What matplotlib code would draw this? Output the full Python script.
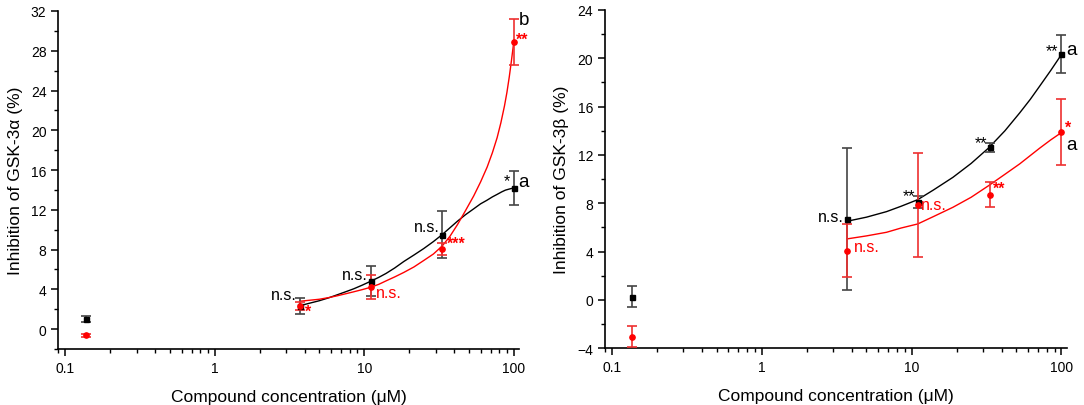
import matplotlib
matplotlib.use('Agg')
import matplotlib.pyplot as plt
from matplotlib.ticker import MultipleLocator, LogLocator, FixedLocator, FixedFormatter, NullFormatter

plt.rcParams['font.family'] = ['Liberation Sans', 'DejaVu Sans']

# concentrations (uM)
conc = [0.137, 3.7, 11.1, 33.3, 100]

# GSK-3alpha
a_black = [1.05, 2.35, 4.8, 9.5, 14.2]
a_black_err = [0.3, 0.8, 1.5, 2.35, 1.7]
a_red = [-0.64, 2.35, 4.23, 8.06, 28.86]
a_red_err = [0.15, 0.42, 1.17, 0.6, 2.3]

# GSK-3beta
b_black = [0.27, 6.7, 8.14, 12.64, 20.36]
b_black_err = [0.88, 5.86, 0.5, 0.37, 1.57]
b_red = [-3.04, 4.07, 7.86, 8.72, 13.88]
b_red_err = [0.85, 2.2, 4.33, 1.06, 2.73]

# fitted curves
a_fit_x_black = [3.7, 4.3, 5, 5.8, 6.6, 7.5, 8.5, 9.7, 11, 12.5, 14, 16, 18.4, 21.5, 25, 29, 33.2,
                 37.5, 42, 47.5, 54, 60, 66, 72, 77.4, 83, 88, 94, 100]
a_fit_y_black = [2.35, 2.6, 2.85, 3.15, 3.45, 3.75, 4.05, 4.42, 4.8, 5.2, 5.6, 6.15, 6.8, 7.45, 8.1, 8.8, 9.5,
                 10.2, 10.85, 11.5, 12.1, 12.6, 12.95, 13.3, 13.55, 13.8, 13.98, 14.1, 14.2]
a_fit_x_red = [3.7, 4.3, 5, 5.8, 6.6, 7.5, 8.5, 9.7, 11, 12.5, 14, 16, 18.4, 21.5, 25, 29, 33.2,
               37.5, 42, 47.5, 54, 60, 66.4, 72, 77.4, 82, 86.7, 90, 93.3, 96.5, 100]
a_fit_y_red = [2.8, 2.9, 3.0, 3.17, 3.35, 3.55, 3.75, 3.97, 4.2, 4.5, 4.85, 5.25, 5.7, 6.25, 6.9, 7.55, 8.35,
               9.35, 10.5, 11.9, 13.4, 14.8, 16.3, 17.75, 19.25, 20.75, 22.45, 23.8, 25.35, 27.0, 28.86]

b_fit_x_black = [3.7, 5, 6.81, 8.5, 11, 14, 18.9, 25, 32.7, 42, 52.7, 62, 71.6, 85, 100]
b_fit_y_black = [6.51, 6.85, 7.31, 7.75, 8.3, 9.1, 10.15, 11.3, 12.58, 14.0, 15.48, 16.6, 17.69, 19.0, 20.3]
b_fit_x_red = [3.7, 5, 6.81, 8.5, 11, 14, 18.9, 25, 32.7, 42, 52.7, 62, 71.6, 85, 100]
b_fit_y_red = [5.05, 5.3, 5.6, 5.95, 6.29, 6.9, 7.67, 8.5, 9.46, 10.4, 11.26, 11.95, 12.56, 13.25, 13.85]

fig = plt.figure(figsize=(10.84, 4.06), dpi=100)
ax1 = fig.add_axes([0.0538, 0.138, 0.4253, 0.8325])
ax2 = fig.add_axes([0.5581, 0.1397, 0.4262, 0.8333])

RED = '#ff0000'


def style_axis(ax, ylim, ylabel):
    ax.set_xscale('log')
    ax.set_xlim(0.09, 109)
    ax.set_ylim(*ylim)
    for s in ['top', 'right']:
        ax.spines[s].set_visible(False)
    for s in ['left', 'bottom']:
        ax.spines[s].set_linewidth(1.2)
    ax.xaxis.set_major_locator(FixedLocator([0.1, 1, 10, 100]))
    ax.xaxis.set_major_formatter(FixedFormatter(['0.1', '1', '10', '100']))
    ax.xaxis.set_minor_locator(LogLocator(base=10, subs=range(2, 10)))
    ax.xaxis.set_minor_formatter(NullFormatter())
    ax.yaxis.set_major_locator(MultipleLocator(4))
    ax.yaxis.set_minor_locator(MultipleLocator(2))
    ax.tick_params(which='major', direction='out', length=5, width=1.1, labelsize=10)
    ax.tick_params(which='minor', direction='out', length=3, width=1.0)
    ax.set_xlabel('Compound concentration (μM)', fontsize=12.5, labelpad=10)
    ax.set_ylabel(ylabel, fontsize=12.5, labelpad=6)


def draw(ax, yb, eb, yr, er, fxb, fyb, fxr, fyr):
    ax.plot(fxb, fyb, color='black', lw=1.0, zorder=2)
    ax.plot(fxr, fyr, color=RED, lw=1.0, zorder=2)
    ax.errorbar(conc, yb, yerr=eb, fmt='s', color='black', ecolor='#444444',
                ms=3.6, elinewidth=1.2, capsize=3.5, capthick=1.2, zorder=3)
    ax.errorbar(conc, yr, yerr=er, fmt='o', color=RED, ecolor='#ee3030',
                ms=3.8, elinewidth=1.2, capsize=3.5, capthick=1.2, zorder=3)


draw(ax1, a_black, a_black_err, a_red, a_red_err,
     a_fit_x_black, a_fit_y_black, a_fit_x_red, a_fit_y_red)
style_axis(ax1, (-2, 32), 'Inhibition of GSK-3α (%)')

draw(ax2, b_black, b_black_err, b_red, b_red_err,
     b_fit_x_black, b_fit_y_black, b_fit_x_red, b_fit_y_red)
style_axis(ax2, (-4, 24), 'Inhibition of GSK-3β (%)')

fs = 11.5
# left panel labels
ax1.text(3.55, 3.5, 'n.s.', ha='right', va='center', fontsize=fs)
ax1.text(4.0, 1.8, '*', color=RED, ha='left', va='center', fontsize=fs, fontweight='bold')
ax1.text(10.6, 5.5, 'n.s.', ha='right', va='center', fontsize=fs)
ax1.text(11.9, 3.7, 'n.s.', color=RED, ha='left', va='center', fontsize=fs)
ax1.text(31.8, 10.3, 'n.s.', ha='right', va='center', fontsize=fs)
ax1.text(35.5, 8.6, '***', color=RED, ha='left', va='center', fontsize=fs, fontweight='bold')
ax1.text(94, 14.9, '*', ha='right', va='center', fontsize=fs)
ax1.text(107, 14.8, 'a', ha='left', va='center', fontsize=13.5, clip_on=False)
ax1.text(107.5, 31.1, 'b', ha='left', va='center', fontsize=13.5, clip_on=False)
ax1.text(103, 29.2, '**', color=RED, ha='left', va='center', fontsize=fs, fontweight='bold', clip_on=False)

# right panel labels
ax2.text(3.55, 6.9, 'n.s.', ha='right', va='center', fontsize=fs)
ax2.text(4.1, 4.4, 'n.s.', color=RED, ha='left', va='center', fontsize=fs)
ax2.text(10.6, 8.6, '**', ha='right', va='center', fontsize=fs)
ax2.text(11.6, 7.9, 'n.s.', color=RED, ha='left', va='center', fontsize=fs)
ax2.text(31.8, 13.05, '**', ha='right', va='center', fontsize=fs)
ax2.text(35.0, 9.25, '**', color=RED, ha='left', va='center', fontsize=fs, fontweight='bold')
ax2.text(95, 20.6, '**', ha='right', va='center', fontsize=fs)
ax2.text(105, 14.3, '*', color=RED, ha='left', va='center', fontsize=fs, fontweight='bold', clip_on=False)
ax2.text(107.5, 20.7, 'a', ha='left', va='center', fontsize=13.5, clip_on=False)
ax2.text(107.5, 12.9, 'a', ha='left', va='center', fontsize=13.5, clip_on=False)

fig.savefig('out.png', dpi=100, facecolor='white')
